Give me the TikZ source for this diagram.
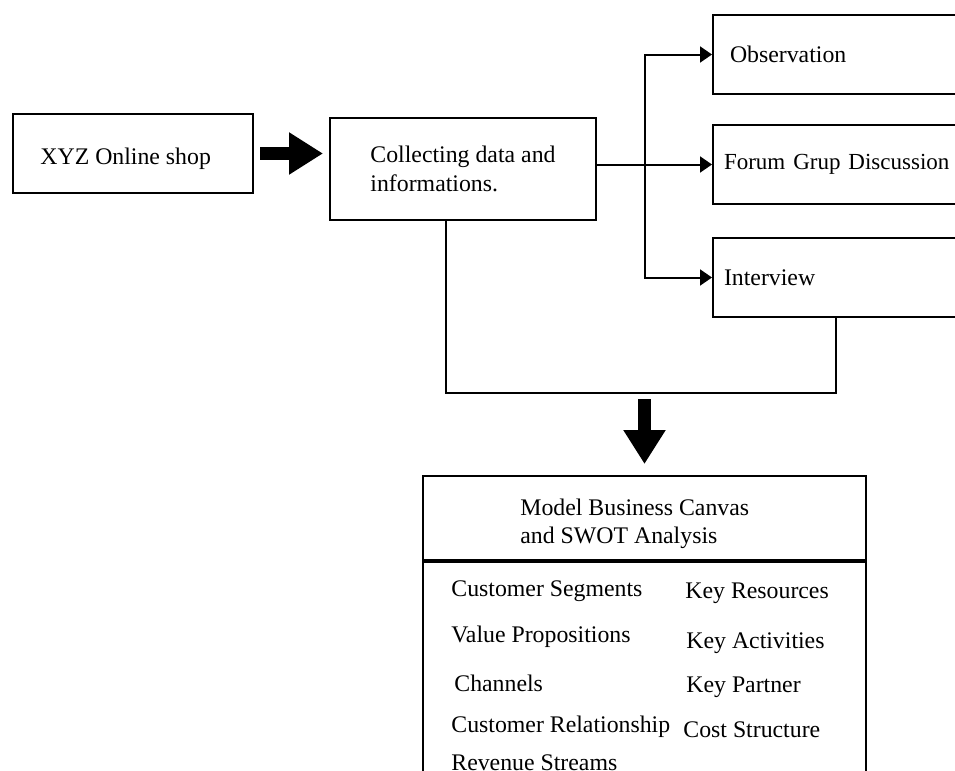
\documentclass[tikz,border=0pt]{standalone}
\usepackage{fontspec}
\setmainfont{Liberation Serif}
\usetikzlibrary{arrows.meta,calc}

\tikzset{
    box/.style={draw, line width=1pt, inner sep=0pt, align=left},
    sidebox/.style={box, anchor=west, minimum height=39.5pt, text width=150pt, inner xsep=5.5pt},
    item/.style={anchor=west, inner sep=0pt, align=left},
    line/.style={line width=1pt},
    conn/.style={line, -{Triangle[length=6pt,width=8pt]}},
    fat/.style={line width=6.5pt, -{Triangle[length=17pt,width=20pt]}}
}

\begin{document}
\begin{tikzpicture}[x=0.5pt,y=-0.5pt,font=\fontsize{11.9}{14.3}\selectfont]
        \useasboundingbox (0,0) rectangle (955,771);
        \clip (0,0) rectangle (955,771);

        \node[box, minimum width=120pt, minimum height=39.5pt] (xyz) at (133,153.5) {};
        \node[item] (xyztext) at (40,159) {XYZ Online shop};
        \node[box, minimum width=133pt, minimum height=51pt] (collect) at (463,169) {Collecting data and\\informations.};
        \node[sidebox] (obs) at (712,54.5) {\hspace*{3pt}Observation};
        \node[sidebox] (forum) at (712,164.5) {\fontsize{11.5}{13.5}\selectfont Forum Grup Discussion};
        \node[sidebox] (interview) at (712,277.5) {Interview};

        \node[box, minimum width=221.5pt, minimum height=42pt] (title) at (644.5,518) {};
        \node[item] (titletext) at (520,524) {Model Business Canvas\\and SWOT Analysis};
        \node[box, anchor=north, minimum width=221.5pt, minimum height=140pt] (body) at (title.south) {};

        \node[item] (cs) at (451,591) {Customer Segments};
        \node[item] (vp) at (451,637) {Value Propositions};
        \node[item] (ch) at (454,683) {Channels};
        \node[item] (cr) at (451,727) {Customer Relationship};
        \node[item] (rs) at (451,763) {Revenue Streams};
        \node[item] (kr) at (685,593) {Key Resources};
        \node[item] (ka) at (686,643) {Key Activities};
        \node[item] (kp) at (686,687) {Key Partner};
        \node[item] (cst) at (683,730) {Cost Structure};

        \coordinate (split) at (645,0);
        \coordinate (joinL) at (446,393);
        \coordinate (joinR) at (836,393);

        \draw[fat] ($(xyz.east)+(6,0)$) -- ($(collect.west |- xyz.east)+(-6,0)$);
        \draw[conn] (collect.east |- forum.west) -- (forum.west);
        \draw[conn] (split |- forum.west) |- (obs.west);
        \draw[conn] (split |- forum.west) |- (interview.west);
        \draw[line] (collect.south -| joinL) -- (joinL) -- (joinR) -- (interview.south -| joinR);
        \draw[fat] ($(title.north)+(0,-76)$) -- ($(title.north)+(0,-11)$);
    \end{tikzpicture}
\end{document}
